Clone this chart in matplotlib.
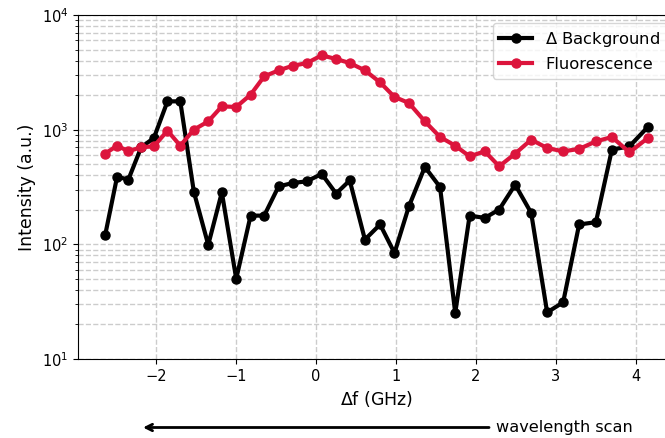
import numpy as np
import matplotlib
matplotlib.use('Agg')
import matplotlib.pyplot as plt

# detuning (GHz)
df = [-2.64, -2.49, -2.35, -2.19, -2.03, -1.86, -1.70, -1.53, -1.35, -1.18,
      -1.00, -0.82, -0.65, -0.47, -0.29, -0.12, 0.07, 0.25, 0.42, 0.61,
      0.80, 0.98, 1.16, 1.36, 1.55, 1.74, 1.92, 2.11, 2.29, 2.49,
      2.69, 2.89, 3.09, 3.29, 3.50, 3.70, 3.92, 4.15]

background = [120, 390, 366, 700, 847, 1766, 1766, 287, 99, 284,
              50, 178, 178, 320, 343, 354, 411, 277, 361, 110,
              149, 84, 214, 473, 316, 25.2, 178, 170, 201, 331,
              188, 25.5, 31.2, 149, 156, 670, 716, 1056]

fluorescence = [618, 725, 648, 702, 716, 980, 725, 1000, 1181, 1597,
                1577, 2019, 2916, 3288, 3614, 3800, 4450, 4130, 3814, 3290,
                2585, 1928, 1710, 1181, 863, 725, 585, 647, 479, 618,
                818, 692, 647, 679, 790, 863, 634, 847]

fig = plt.figure(figsize=(6.65, 4.38), dpi=100)
# right edge of the axes sits just outside the figure, as in the reference crop
ax = fig.add_axes([78 / 665, 79 / 438, 597 / 665, 344 / 438])

ax.plot(df, background, '-o', color='black', lw=3, ms=6.5, label=r'$\Delta$ Background')
ax.plot(df, fluorescence, '-o', color='crimson', lw=3, ms=6.5, label='Fluorescence')

ax.set_yscale('log')
ax.set_ylim(10, 1e4)
ax.set_xticks([-2, -1, 0, 1, 2, 3, 4])
ax.tick_params(labelsize=10.5)
ax.grid(True, which='major', axis='both', ls='--', color='#cccccc', lw=1)
ax.grid(True, which='minor', axis='y', ls='--', color='#cccccc', lw=1)
ax.set_axisbelow(True)

ax.set_xlabel(r'$\Delta$f (GHz)', fontsize=12.5)
ax.set_ylabel('Intensity (a.u.)', fontsize=12.5)

ax.legend(loc='upper right', fontsize=11.8)

ax.annotate('wavelength scan', xy=(143 / 665, 1 - 427.5 / 438),
            xytext=(496 / 665, 1 - 427.5 / 438), xycoords='figure fraction',
            textcoords='figure fraction', va='center', ha='left', fontsize=11.6,
            arrowprops=dict(arrowstyle='->', lw=2, color='black', shrinkA=3, shrinkB=0))

fig.savefig('out.png', dpi=100)
